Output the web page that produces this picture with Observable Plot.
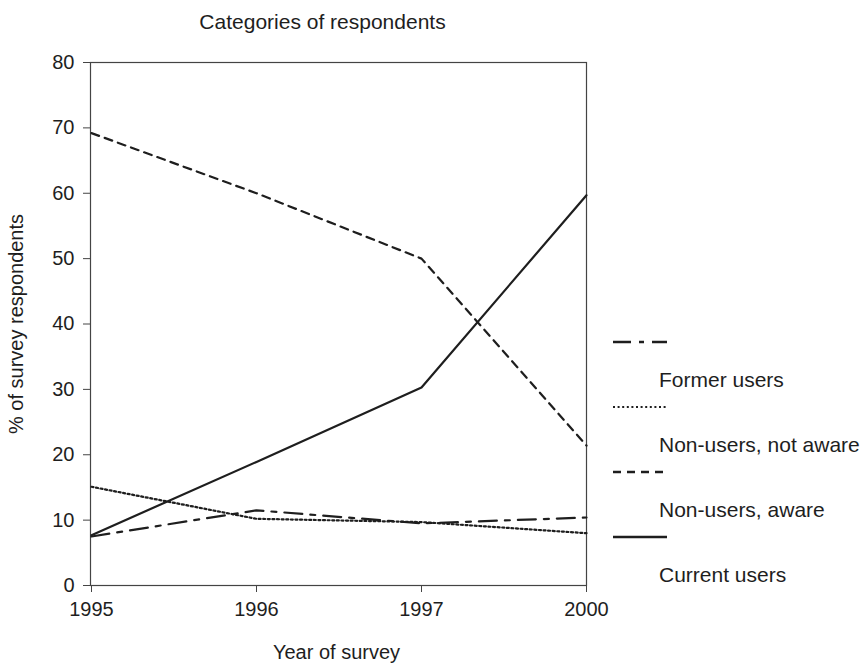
<!DOCTYPE html>
<html><head><meta charset="utf-8">
<script src="https://cdn.jsdelivr.net/npm/d3@7"></script>
<script src="https://cdn.jsdelivr.net/npm/@observablehq/plot@0.6"></script>
<style>
body{margin:0;background:#fff;}
#wrap{position:relative;width:868px;height:668px;}
</style>
</head><body><div id="wrap"></div>
<script>
const years = ["1995", "1996", "1997", "2000"];
const seriesNames = ["Former users", "Non-users, not aware", "Non-users, aware", "Current users"];
const formerUsers = [7.5, 11.5, 9.5, 10.4];
const nonUsersNotAware = [15.1, 10.2, 9.7, 8.0];
const nonUsersAware = [69.2, 60.0, 50.0, 21.4];
const currentUsers = [7.7, 18.9, 30.3, 59.7];
const yTicks = [0, 10, 20, 30, 40, 50, 60, 70, 80];
const title = "Categories of respondents";
const xLabel = "Year of survey";
const yLabel = "% of survey respondents";

const seriesValues = [formerUsers, nonUsersNotAware, nonUsersAware, currentUsers];
const dashStyles = ["18,8,5,8", "2,2.6", "8,6", null];
const ink = "#1e1e1e";
const font = "'Liberation Sans', Arial, Helvetica, sans-serif";

const rows = seriesNames.flatMap((name, i) =>
  years.map((year, j) => ({series: name, year, value: seriesValues[i][j]})));

const plot = Plot.plot({
  width: 868,
  height: 668,
  marginLeft: 90,
  marginRight: 282,
  marginTop: 62,
  marginBottom: 83,
  style: {fontFamily: font, fontSize: "20px", color: ink, background: "#fff"},
  x: {type: "point", domain: years, padding: 0, label: null},
  y: {domain: [0, 80], ticks: yTicks, label: null},
  marks: [
    Plot.frame({stroke: "#444", strokeWidth: 1.2}),
    Plot.axisX({tickSize: 7, tickPadding: 9, label: null, fontSize: 20, stroke: "#444"}),
    Plot.axisY({ticks: yTicks, tickSize: 7, tickPadding: 9, label: null, fontSize: 20, stroke: "#444"}),
    ...seriesNames.map((name, i) =>
      Plot.line(rows.filter(d => d.series === name), {
        x: "year", y: "value", stroke: ink, strokeWidth: 2.2,
        strokeDasharray: dashStyles[i]
      })),
    Plot.text([title], {frameAnchor: "top", lineAnchor: "middle", textAnchor: "middle", dx: -16, dy: -40, fontSize: 21, fill: ink}),
    Plot.text([xLabel], {frameAnchor: "bottom", lineAnchor: "middle", textAnchor: "middle", dx: -2, dy: 67, fontSize: 20, fill: ink}),
    Plot.text([yLabel], {frameAnchor: "left", lineAnchor: "middle", textAnchor: "middle", dx: -74, rotate: -90, fontSize: 20, fill: ink})
  ]
});
document.getElementById("wrap").appendChild(plot);

// Legend: sample line, with its label beneath it (as in the original)
const svg = d3.select(plot);
const lg = svg.append("g").attr("font-family", font).attr("font-size", 21)
  .attr("fill", ink).attr("text-anchor", "start");
seriesNames.forEach((name, i) => {
  const y = 342 + i * 65;
  const line = lg.append("line")
    .attr("x1", 613).attr("x2", 667).attr("y1", y).attr("y2", y)
    .attr("stroke", ink).attr("stroke-width", i === 1 ? 1.8 : 2.5);
  if (dashStyles[i]) line.attr("stroke-dasharray", dashStyles[i]);
  lg.append("text").attr("x", 659).attr("y", y + 38).attr("dy", "0.35em").text(name);
});
</script>
</body></html>
